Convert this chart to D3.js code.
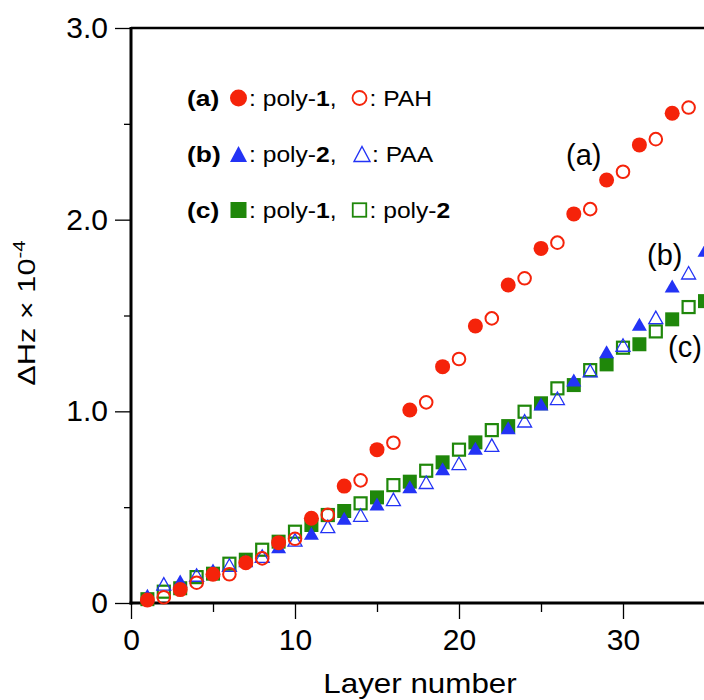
<!DOCTYPE html>
<html>
<head>
<meta charset="utf-8">
<script src="https://d3js.org/d3.v7.min.js"></script>
<style>
  body { margin: 0; background: #fff; }
  svg { display: block; font-family: "Liberation Sans", Arial, Helvetica, sans-serif; }
</style>
</head>
<body>
<div id="chart"></div>
<script>
// layer numbers: filled symbols sit on odd layers, open symbols on even layers
const oddLayers  = [1,3,5,7,9,11,13,15,17,19,21,23,25,27,29,31,33,35];
const evenLayers = [2,4,6,8,10,12,14,16,18,20,22,24,26,28,30,32,34];

// (a) poly-1 (filled circle) / PAH (open circle)
const aPoly1 = [0.016,0.07,0.15,0.21,0.315,0.442,0.61,0.80,1.007,1.233,1.445,1.659,1.85,2.03,2.207,2.39,2.555];
const aPAH   = [0.03,0.106,0.15,0.233,0.335,0.46,0.64,0.836,1.047,1.273,1.485,1.694,1.88,2.055,2.25,2.42,2.585];
// (b) poly-2 (filled triangle) / PAA (open triangle)
const bPoly2 = [0.04,0.115,0.172,0.22,0.294,0.364,0.442,0.516,0.607,0.70,0.807,0.915,1.038,1.163,1.311,1.455,1.654,1.84];
const bPAA   = [0.1,0.146,0.198,0.245,0.329,0.40,0.459,0.541,0.63,0.729,0.824,0.951,1.068,1.212,1.346,1.49,1.723];
// (c) poly-1 (filled square) / poly-2 (open square)
const cPoly1 = [0.02,0.077,0.153,0.226,0.32,0.407,0.48,0.551,0.633,0.734,0.838,0.923,1.042,1.137,1.245,1.35,1.48,1.575];
const cPoly2 = [0.059,0.135,0.205,0.278,0.372,0.459,0.52,0.615,0.69,0.80,0.902,0.998,1.12,1.215,1.332,1.417,1.544];

const yTicks = [0, 1, 2, 3];
const yMinor = [0.5, 1.5, 2.5];
const xTicks = [0, 10, 20, 30];
const xMinor = [5, 15, 25, 35];

const red = "#f5230a", blue = "#2333f5", green = "#1f870a";

const W = 704, H = 700;
const svg = d3.select("#chart").append("svg").attr("width", W).attr("height", H);

const x = d3.scaleLinear().domain([0, 40]).range([131, 787]);
const y = d3.scaleLinear().domain([0, 3]).range([603, 28]);

// axes
const yAxis = svg.append("g").attr("transform", "translate(131,0)")
  .call(d3.axisLeft(y).tickValues(yTicks).tickSize(16).tickPadding(7)
    .tickFormat(d => d === 0 ? "0" : d.toFixed(1)));
const yAxisMinor = svg.append("g").attr("transform", "translate(131,0)")
  .call(d3.axisLeft(y).tickValues(yMinor).tickSize(7).tickFormat(""));
const xAxis = svg.append("g").attr("transform", "translate(0,603)")
  .call(d3.axisBottom(x).tickValues(xTicks).tickSize(16).tickPadding(10));
const xAxisMinor = svg.append("g").attr("transform", "translate(0,603)")
  .call(d3.axisBottom(x).tickValues(xMinor).tickSize(9).tickFormat(""));

[yAxis, yAxisMinor, xAxis, xAxisMinor].forEach(g => {
  g.select(".domain").remove();
  g.selectAll("line").attr("stroke", "#000").attr("stroke-width", 1.3);
  g.selectAll("text").attr("font-size", 30).attr("fill", "#000")
    .attr("font-family", "Liberation Sans, Arial, sans-serif");
});

// frame
svg.append("line").attr("x1", 131).attr("x2", 800).attr("y1", 28).attr("y2", 28)
  .attr("stroke", "#000").attr("stroke-width", 2.5);
svg.append("line").attr("x1", 131).attr("x2", 131).attr("y1", 27).attr("y2", 604.5)
  .attr("stroke", "#000").attr("stroke-width", 3);
svg.append("line").attr("x1", 129.5).attr("x2", 800).attr("y1", 603).attr("y2", 603)
  .attr("stroke", "#000").attr("stroke-width", 3);

// axis titles
svg.append("text")
  .attr("transform", "translate(420,693) scale(1.12,1)")
  .attr("text-anchor", "middle").attr("font-size", 28)
  .text("Layer number");

const yl = svg.append("text")
  .attr("transform", "translate(35,313) rotate(-90) scale(1.28,1)")
  .attr("text-anchor", "middle").attr("font-size", 24);
yl.append("tspan").text("\u0394Hz \u00d7 10");
yl.append("tspan").attr("font-size", 16).attr("dy", -10).text("-4");

// marker helpers
function triPath(cx, cy, w, h) {
  return `M${cx},${cy - h / 2}L${cx + w / 2},${cy + h / 2}L${cx - w / 2},${cy + h / 2}Z`;
}
function zip(layers, vals) { return vals.map((v, i) => ({ layer: layers[i], v })); }

const plot = svg.append("g");

// squares (c) at the bottom of the stack
plot.selectAll(".sqf").data(zip(oddLayers, cPoly1)).join("rect")
  .attr("x", d => x(d.layer) - 7).attr("y", d => y(d.v) - 7)
  .attr("width", 14).attr("height", 14).attr("fill", green);
plot.selectAll(".sqo").data(zip(evenLayers, cPoly2)).join("rect")
  .attr("x", d => x(d.layer) - 6).attr("y", d => y(d.v) - 6)
  .attr("width", 12).attr("height", 12)
  .attr("fill", "none").attr("stroke", green).attr("stroke-width", 2.2);

// triangles (b)
plot.selectAll(".trf").data(zip(oddLayers, bPoly2)).join("path")
  .attr("d", d => triPath(x(d.layer), y(d.v), 15, 13)).attr("fill", blue);
plot.selectAll(".tro").data(zip(evenLayers, bPAA)).join("path")
  .attr("d", d => triPath(x(d.layer), y(d.v), 14, 12.5))
  .attr("fill", "none").attr("stroke", blue).attr("stroke-width", 1.3);

// circles (a) on top
plot.selectAll(".cf").data(zip(oddLayers, aPoly1)).join("circle")
  .attr("cx", d => x(d.layer)).attr("cy", d => y(d.v)).attr("r", 7.5).attr("fill", red);
plot.selectAll(".co").data(zip(evenLayers, aPAH)).join("circle")
  .attr("cx", d => x(d.layer)).attr("cy", d => y(d.v)).attr("r", 6.3)
  .attr("fill", "none").attr("stroke", red).attr("stroke-width", 2);

// series labels inside plot
[["(a)", 566, 165], ["(b)", 647, 265], ["(c)", 668, 357]].forEach(([t, tx, ty]) => {
  svg.append("text").attr("x", tx).attr("y", ty).attr("font-size", 29).text(t);
});

// legend
const legendRows = [
  { tag: "(a)", y: 106, f: "circle", fc: red, mid: "1", tail: [": PAH"] },
  { tag: "(b)", y: 162, f: "tri", fc: blue, mid: "2", tail: [": PAA"] },
  { tag: "(c)", y: 218, f: "square", fc: green, mid: "1", tail: [": poly-", "2"] }
];
const fs = 22;
function drawMarker(g, kind, cx, cy, color, filled) {
  if (kind === "circle") {
    g.append("circle").attr("cx", cx).attr("cy", cy).attr("r", filled ? 8.5 : 7)
      .attr("fill", filled ? color : "none").attr("stroke", filled ? "none" : color).attr("stroke-width", 1.8);
  } else if (kind === "tri") {
    g.append("path").attr("d", triPath(cx, cy, filled ? 17 : 16, filled ? 16 : 15))
      .attr("fill", filled ? color : "none").attr("stroke", filled ? "none" : color).attr("stroke-width", 1.4);
  } else {
    const s = filled ? 16 : 13.5;
    g.append("rect").attr("x", cx - s / 2).attr("y", cy - s / 2).attr("width", s).attr("height", s)
      .attr("fill", filled ? color : "none").attr("stroke", filled ? "none" : color).attr("stroke-width", 1.8);
  }
}
legendRows.forEach(r => {
  const g = svg.append("g");
  g.append("text").attr("font-size", fs).attr("font-weight", "bold")
    .attr("transform", `translate(187,${r.y}) scale(1.2,1)`).text(r.tag);
  drawMarker(g, r.f, 238.5, r.y - 8, r.fc, true);
  const t1 = g.append("text").attr("font-size", fs)
    .attr("transform", `translate(249,${r.y}) scale(1.12,1)`);
  t1.append("tspan").text(": poly-");
  t1.append("tspan").attr("font-weight", "bold").text(r.mid);
  t1.append("tspan").text(",");
  drawMarker(g, r.f, r.f === "tri" ? 362 : 359.5, r.y - 8, r.fc, false);
  const t2 = g.append("text").attr("font-size", fs)
    .attr("transform", `translate(${r.f === "tri" ? 372 : 369.5},${r.y}) scale(1.12,1)`);
  t2.append("tspan").text(r.tail[0]);
  if (r.tail[1]) t2.append("tspan").attr("font-weight", "bold").text(r.tail[1]);
});
</script>
</body>
</html>
